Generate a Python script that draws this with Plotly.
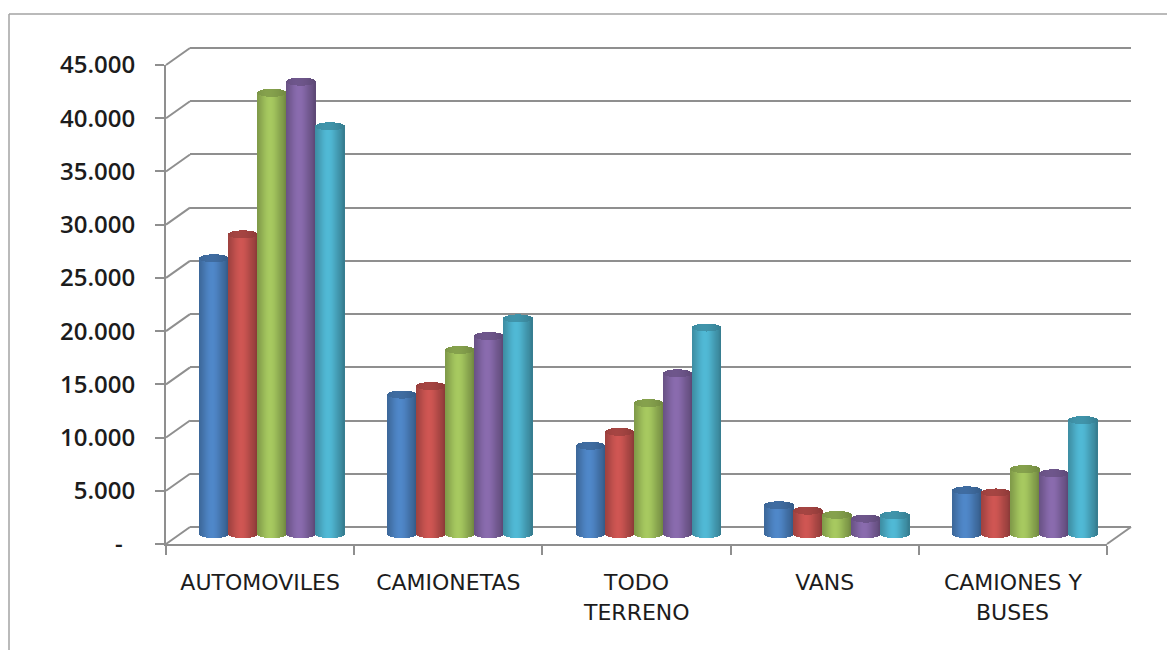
import numpy as np
import plotly.graph_objects as go

# Vehicle sales by type, five yearly series per category
categories = ["AUTOMOVILES", "CAMIONETAS", "TODO TERRENO", "VANS", "CAMIONES Y BUSES"]
label_line1 = ["AUTOMOVILES", "CAMIONETAS", "TODO", "VANS", "CAMIONES Y"]
label_line2 = ["", "", "TERRENO", "", "BUSES"]

serie_1 = [25900, 13100, 8300, 2700, 4100]
serie_2 = [28150, 13900, 9600, 2200, 3900]
serie_3 = [41450, 17300, 12300, 1800, 6100]
serie_4 = [42500, 18600, 15100, 1450, 5700]
serie_5 = [38300, 20250, 19400, 1750, 10700]

series = [serie_1, serie_2, serie_3, serie_4, serie_5]
colors = [(74, 126, 187), (192, 80, 77), (155, 187, 89), (128, 100, 162), (75, 172, 198)]

y_ticks = [0, 5000, 10000, 15000, 20000, 25000, 30000, 35000, 40000, 45000]
y_labels = ["-\u00a0\u00a0", "5.000", "10.000", "15.000", "20.000", "25.000",
            "30.000", "35.000", "40.000", "45.000"]

W, H = 1167, 650
FRONT_L, FRONT_R, FRONT_T, FRONT_B = 166, 1107, 65, 544
DX, DY = 24, 17  # depth of the 3D box
CYL_W = 29
CAP = 4
GRID = "#8f8f8f"
TEXT = "#1c1c1c"
LABEL_SIZE = 22


def xdom(a, b):
    return [a / W, b / W]


def ydom(top, bottom):
    return [1 - bottom / H, 1 - top / H]


def shade(rgb, t):
    """Colour of a cylinder slice at t in [-1, 1] across its width."""
    k = 0.74 + 0.34 * np.exp(-((t + 0.1) / 0.75) ** 2)
    if t > 0.8:
        k -= (t - 0.8) * 0.3
    c = [min(255, int(v * k)) for v in rgb]
    return f"rgb({c[0]},{c[1]},{c[2]})"


fig = go.Figure()

# Front axes carry the labels and ticks
fig.add_trace(go.Scatter(x=categories, y=[0] * 5, mode="markers", marker=dict(opacity=0),
                         xaxis="x", yaxis="y", hoverinfo="skip", showlegend=False))
# Back wall carries the gridlines
fig.add_trace(go.Scatter(x=[0], y=[0], mode="markers", marker=dict(opacity=0),
                         xaxis="x2", yaxis="y2", hoverinfo="skip", showlegend=False))

per_cat = (FRONT_R - FRONT_L) / 5
per_val = (FRONT_B - FRONT_T) / 45000
slice_px = 1.0
offs = np.arange(-CYL_W / 2 + slice_px / 2, CYL_W / 2, slice_px)

for j, (vals, rgb) in enumerate(zip(series, colors)):
    xs, bases, heights, cols = [], [], [], []
    cx, cb, ch, cc = [], [], [], []
    for i, v in enumerate(vals):
        centre = i + (j - 2) * CYL_W / per_cat
        for o in offs:
            t = o / (CYL_W / 2)
            s = np.sqrt(max(0, 1 - t * t)) * CAP / per_val
            xs.append(centre + o / per_cat)
            bases.append(-s)
            heights.append(v + s + s)
            cols.append(shade(rgb, t))
            cx.append(centre + o / per_cat)
            cb.append(v - s)
            ch.append(2 * s)
            cc.append(shade(tuple(c * 0.8 for c in rgb), t * 0.5))
    fig.add_trace(go.Bar(x=xs, y=heights, base=bases, width=slice_px / per_cat,
                         marker=dict(color=cols, line=dict(width=0)),
                         xaxis="x3", yaxis="y3", hoverinfo="skip", showlegend=False))
    fig.add_trace(go.Bar(x=cx, y=ch, base=cb, width=slice_px / per_cat,
                         marker=dict(color=cc, line=dict(width=0)),
                         xaxis="x3", yaxis="y3", hoverinfo="skip", showlegend=False))

# Outer frame, open on the right and at the bottom
shapes = [
    dict(type="line", xref="paper", yref="paper", x0=9 / W, x1=1, y0=1 - 14 / H, y1=1 - 14 / H,
         line=dict(color="#a3a3a3", width=1.5)),
    dict(type="line", xref="paper", yref="paper", x0=9 / W, x1=9 / W, y0=1 - 14 / H, y1=0,
         line=dict(color="#a3a3a3", width=1.5)),
]
# Side-wall and floor edges joining front axis to back wall
for v in y_ticks:
    yp = FRONT_B - v * per_val
    shapes.append(dict(type="line", xref="paper", yref="paper", layer="below",
                       x0=FRONT_L / W, x1=(FRONT_L + DX) / W,
                       y0=1 - yp / H, y1=1 - (yp - DY) / H,
                       line=dict(color=GRID, width=2)))
shapes.append(dict(type="line", xref="paper", yref="paper", layer="below",
                   x0=FRONT_R / W, x1=(FRONT_R + DX) / W,
                   y0=1 - FRONT_B / H, y1=1 - (FRONT_B - DY) / H,
                   line=dict(color=GRID, width=2)))

annotations = [
    dict(text=t, x=c, y=1 - 612 / H, xref="x", yref="paper", showarrow=False,
         xanchor="center", yanchor="middle",
         font=dict(family="DejaVu Sans", size=LABEL_SIZE, color=TEXT))
    for c, t in zip(categories, label_line2) if t
]

bar_bottom = (FRONT_B + FRONT_B - DY) / 2 - 2
GRID_PAD = 500  # keeps the first and last gridlines inside the axis range
fig.update_layout(
    width=W, height=H, margin=dict(l=0, r=0, t=0, b=0, autoexpand=False), autosize=False,
    paper_bgcolor="white", plot_bgcolor="rgba(0,0,0,0)", barmode="overlay", bargap=0,
    showlegend=False, shapes=shapes, annotations=annotations,
    xaxis=dict(domain=xdom(FRONT_L, FRONT_R), anchor="y", type="category",
               categoryorder="array", categoryarray=categories, range=[-0.5, 4.5],
               tickmode="array", tickvals=categories, ticktext=label_line1, tickson="boundaries",
               ticks="outside", ticklen=9, tickwidth=1.5, tickcolor=GRID,
               showline=True, linecolor=GRID, linewidth=2, showgrid=False, zeroline=False,
               ticklabelstandoff=18,
               tickfont=dict(family="DejaVu Sans", size=LABEL_SIZE, color=TEXT)),
    yaxis=dict(domain=ydom(FRONT_T, FRONT_B), anchor="x", range=[0, 45000],
               tickmode="array", tickvals=y_ticks, ticktext=y_labels,
               ticks="outside", ticklen=9, tickwidth=1.5, tickcolor=GRID,
               showline=True, linecolor=GRID, linewidth=2, showgrid=False, zeroline=False,
               ticklabelstandoff=15,
               tickfont=dict(family="Open Sans", size=24, weight=600, color=TEXT)),
    xaxis2=dict(domain=xdom(FRONT_L + DX, FRONT_R + DX), anchor="y2", range=[-0.5, 4.5],
                visible=False),
    yaxis2=dict(domain=ydom(FRONT_T - DY - GRID_PAD * per_val, FRONT_B - DY + GRID_PAD * per_val),
                anchor="x2", range=[-GRID_PAD, 45000 + GRID_PAD],
                tick0=0, dtick=5000, showgrid=True, gridcolor=GRID, gridwidth=2,
                showticklabels=False, ticks="", showline=False, zeroline=False),
    xaxis3=dict(domain=xdom(FRONT_L + DX / 2, FRONT_R + DX / 2), anchor="y3", range=[-0.5, 4.5],
                visible=False),
    yaxis3=dict(domain=ydom(bar_bottom - 45000 * per_val, bar_bottom + 1000 * per_val),
                anchor="x3", range=[-1000, 45000], visible=False),
)

fig.write_html("out.html")
